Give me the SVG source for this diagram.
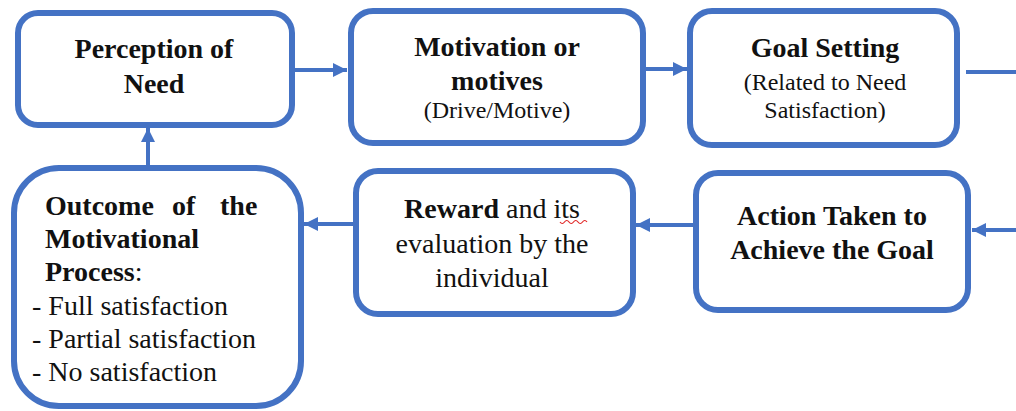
<svg xmlns="http://www.w3.org/2000/svg" width="1016" height="411" viewBox="0 0 1016 411">
<defs>
<style>
.box{fill:#fff;stroke:#4472C4;stroke-width:6}
.con{fill:none;stroke:#4472C4;stroke-width:4}
text{fill:#111;font-family:"Liberation Serif","Times New Roman",serif}
.m{font-size:28px}
.s{font-size:24px}
.b{font-weight:bold}
.c{text-anchor:middle}
</style>
<marker id="ah" viewBox="0 0 10 10" refX="10" refY="5" markerWidth="14" markerHeight="14" markerUnits="userSpaceOnUse" orient="auto">
<path d="M0,0 L10,5 L0,10 z" fill="#4472C4"/>
</marker>
</defs>
<rect width="1016" height="411" fill="#fff"/>
<g id="connectors">
<line class="con" x1="295" y1="70" x2="347" y2="70" marker-end="url(#ah)"/>
<line class="con" x1="646" y1="69" x2="687" y2="69" marker-end="url(#ah)"/>
<line class="con" x1="966" y1="72" x2="1016" y2="72"/>
<line class="con" x1="1016" y1="230" x2="972" y2="230" marker-end="url(#ah)"/>
<line class="con" x1="693" y1="225" x2="636" y2="225" marker-end="url(#ah)"/>
<line class="con" x1="353" y1="224" x2="304" y2="224" marker-end="url(#ah)"/>
<line class="con" x1="148" y1="165" x2="148" y2="128" marker-end="url(#ah)"/>
</g>
<g id="perception">
<rect class="box" x="18" y="13" width="274" height="112" rx="20"/>
<text class="m b c" x="154" y="58">Perception of</text>
<text class="m b c" x="154" y="93">Need</text>
</g>
<g id="motivation">
<rect class="box" x="351" y="11" width="292" height="132" rx="22"/>
<text class="m b c" x="497" y="56">Motivation or</text>
<text class="m b c" x="497" y="90">motives</text>
<text class="s c" x="497" y="118">(Drive/Motive)</text>
</g>
<g id="goal">
<rect class="box" x="690" y="11" width="267" height="134" rx="22"/>
<text class="m b c" x="825" y="57">Goal Setting</text>
<text class="s c" x="825" y="90">(Related to Need</text>
<text class="s c" x="825" y="118">Satisfaction)</text>
</g>
<g id="action">
<rect class="box" x="696" y="173" width="272" height="137" rx="22"/>
<text class="m b c" x="832" y="225">Action Taken to</text>
<text class="m b c" x="832" y="259">Achieve the Goal</text>
</g>
<g id="reward">
<rect class="box" x="356" y="171" width="277" height="143" rx="22"/>
<text class="m c" x="492" y="218"><tspan class="b">Reward</tspan> and its</text>
<path d="M560,222 q2.25,3 4.5,0 t4.5,0 t4.5,0 t4.5,0 t4.5,0 t4.5,0" fill="none" stroke="#e02020" stroke-width="1.2"/>
<text class="m c" x="492" y="253">evaluation by the</text>
<text class="m c" x="492" y="287">individual</text>
</g>
<g id="outcome">
<rect class="box" x="14" y="168" width="287" height="238" rx="45"/>
<text class="m b" y="215"><tspan x="45">Outcome</tspan><tspan x="172">of</tspan><tspan x="220">the</tspan></text>
<text class="m b" x="45" y="248">Motivational</text>
<text class="m" x="45" y="281"><tspan class="b">Process</tspan>:</text>
<text class="m" x="32" y="315">- Full satisfaction</text>
<text class="m" x="32" y="348">- Partial satisfaction</text>
<text class="m" x="32" y="381">- No satisfaction</text>
</g>
</svg>
